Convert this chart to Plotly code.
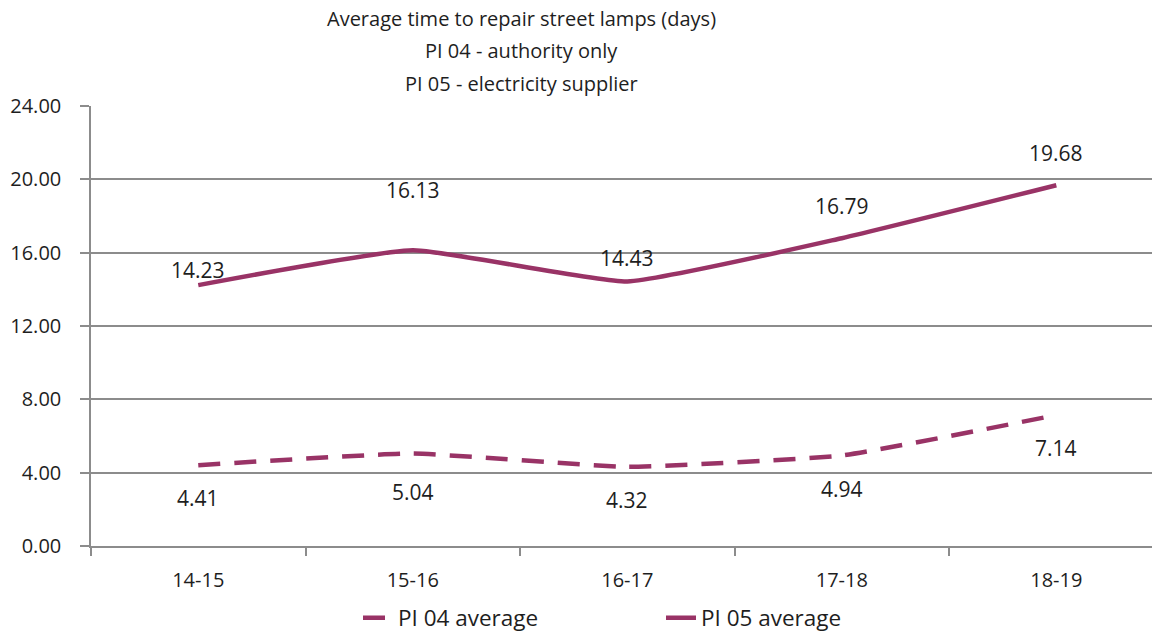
import plotly.graph_objects as go

categories = ["14-15", "15-16", "16-17", "17-18", "18-19"]
pi04 = [4.41, 5.04, 4.32, 4.94, 7.14]
pi05 = [14.23, 16.13, 14.43, 16.79, 19.68]
y_ticks = [0, 4, 8, 12, 16, 20, 24]
y_tick_labels = ["0.00", "4.00", "8.00", "12.00", "16.00", "20.00", "24.00"]
title_lines = ["Average time to repair street lamps (days)",
               "PI 04 - authority only",
               "PI 05 - electricity supplier"]

# label placement offsets in pixels (style, not data)
pi04_label_shift = [-33, -38, -33, -34, -33]
pi05_label_shift = [15, 60, 23, 32, 32]

COLOR = "#993366"
TEXT = "#1e1e1e"
GRID = "#8c8c8c"
FONT = "Open Sans"
FS = 20

fig = go.Figure()
fig.add_trace(go.Scatter(
    x=categories, y=pi04, name="PI 04 average", mode="lines",
    line=dict(color=COLOR, width=4.5, dash="22px,14px", shape="spline", smoothing=0.4),
))
fig.add_trace(go.Scatter(
    x=categories, y=pi05, name="PI 05 average", mode="lines",
    line=dict(color=COLOR, width=4.5, shape="spline", smoothing=0.4),
))

for c, v, s in zip(categories, pi04, pi04_label_shift):
    fig.add_annotation(x=c, y=v, text=f"{v:.2f}", showarrow=False, yshift=s,
                       font=dict(family=FONT, size=21, color=TEXT))
for c, v, s in zip(categories, pi05, pi05_label_shift):
    fig.add_annotation(x=c, y=v, text=f"{v:.2f}", showarrow=False, yshift=s,
                       font=dict(family=FONT, size=21, color=TEXT))

# title lines
plot_h = 440
for line, ypix in zip(title_lines, [19, 50, 83]):
    fig.add_annotation(text=line, showarrow=False, xref="paper", yref="paper",
                       x=(521 - 91) / 1061, y=(546 - ypix) / plot_h,
                       xanchor="center", yanchor="middle",
                       font=dict(family=FONT, size=FS, color=TEXT))

fig.update_layout(
    width=1152, height=634,
    margin=dict(l=91, r=0, t=106, b=88, pad=0, autoexpand=False),
    paper_bgcolor="white", plot_bgcolor="white",
    font=dict(family=FONT, size=FS, color=TEXT),
    showlegend=True,
    legend=dict(orientation="h", x=(358 - 91) / 1061, xanchor="left",
                y=(546 - 618) / plot_h, yanchor="middle",
                font=dict(family=FONT, size=22.5, color=TEXT),
                entrywidth=258, entrywidthmode="pixels",
                tracegroupgap=0, bgcolor="rgba(0,0,0,0)"),
    xaxis=dict(
        type="category", range=[-0.5, 4.446], automargin=False,
        showline=True, linecolor=GRID, linewidth=1.5,
        showgrid=False, zeroline=False,
        ticks="outside", tickson="boundaries", ticklen=8, tickcolor=GRID, tickwidth=1.5,
        tickfont=dict(family=FONT, size=FS, color=TEXT), ticklabelstandoff=15,
    ),
    yaxis=dict(
        range=[0, 24], tickvals=y_ticks, ticktext=y_tick_labels, automargin=False,
        showline=True, linecolor=GRID, linewidth=1.5,
        showgrid=True, gridcolor=GRID, gridwidth=1.5, zeroline=False,
        ticks="outside", ticklen=9, tickcolor=GRID, tickwidth=1.5,
        tickfont=dict(family=FONT, size=FS, color=TEXT), ticklabelstandoff=15,
    ),
)

fig.write_html("out.html", config={"displayModeBar": False},
               post_script="document.body.style.margin='0';document.body.style.overflow='hidden';")
